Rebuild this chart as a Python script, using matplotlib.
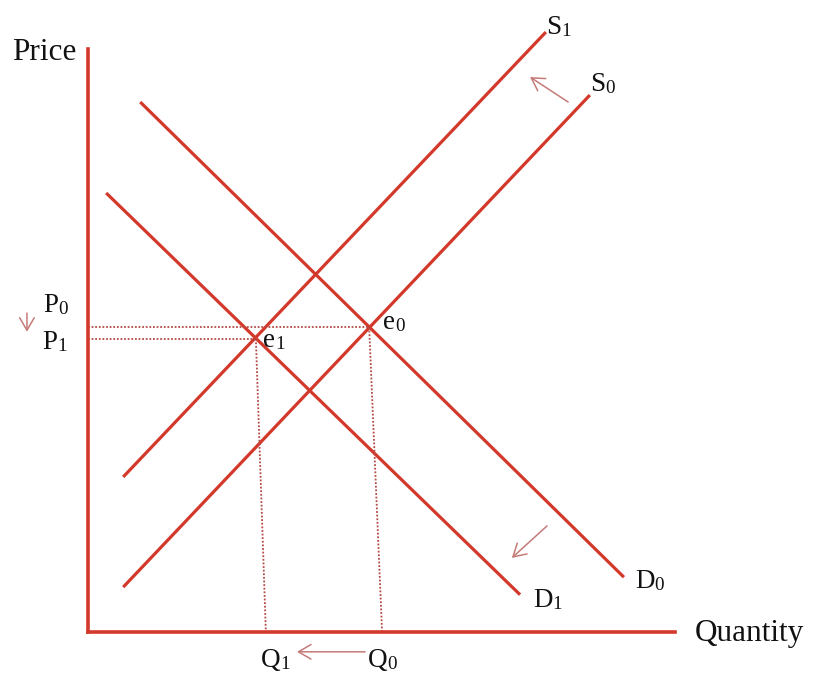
"""
Supply and demand shift diagram: supply shifts left (S0 -> S1), demand shifts left (D0 -> D1)
"""

import matplotlib
matplotlib.use("Agg")
import matplotlib.pyplot as plt

# chart data (quantity on x, price on y, arbitrary units 0-100)
supply_0_q = [6.0, 85.5]
supply_0_p = [7.7, 92.1]
supply_1_q = [6.0, 78.0]
supply_1_p = [26.6, 102.9]
demand_0_q = [8.9, 91.3]
demand_0_p = [90.9, 9.4]
demand_1_q = [3.1, 73.6]
demand_1_p = [75.3, 6.4]

# equilibria e0, e1 and where the dotted guides meet the axes
eq_q = [47.9, 28.6]
eq_p = [52.3, 50.3]
eq_q_axis = [50.1, 30.3]

# shift arrows: (from_q, from_p, to_q, to_p)
shift_arrows = [
    (81.8, 90.9, 75.3, 95.2),    # supply shifts
    (78.2, 18.2, 72.2, 12.7),    # demand shifts
    (47.2, -3.4, 35.6, -3.4),    # quantity falls
    (-10.4, 54.7, -10.4, 51.5),  # price falls
]

W, H = 814, 675
RED = '#d3392b'
DOT = '#b34a45'
ARROW = '#c47b78'
FONT = ['Liberation Serif', 'DejaVu Serif']

fig = plt.figure(figsize=(W / 100, H / 100), dpi=100)
ax = fig.add_axes([88 / W, (H - 632) / H, (675 - 88) / W, (632 - 49) / H])
ax.set_xlim(0, 100)
ax.set_ylim(0, 100)
for side in ['top', 'right']:
    ax.spines[side].set_visible(False)
for side in ['left', 'bottom']:
    ax.spines[side].set_color(RED)
    ax.spines[side].set_linewidth(2.6)
ax.set_xticks([])
ax.set_yticks([])

# curves
for q, p in [(supply_0_q, supply_0_p), (supply_1_q, supply_1_p),
             (demand_0_q, demand_0_p), (demand_1_q, demand_1_p)]:
    ax.plot(q, p, color=RED, linewidth=2.3, solid_capstyle='butt', clip_on=False)

# dotted guides to the axes
for q, p, qa in zip(eq_q, eq_p, eq_q_axis):
    ax.plot([0, q], [p, p], color=DOT, linestyle=(0, (1, 1)), linewidth=1.3)
    ax.plot([q, qa], [p, 0], color=DOT, linestyle=(0, (1, 1)), linewidth=1.3)

for q0, p0, q1, p1 in shift_arrows:
    ax.annotate('', xy=(q1, p1), xytext=(q0, p0), annotation_clip=False,
                arrowprops=dict(arrowstyle='->,head_length=0.6,head_width=0.35',
                                color=ARROW, lw=1.1, shrinkA=0, shrinkB=0,
                                mutation_scale=15))


def label(x, y, main, sub='', size=19.5):
    # x, y: left edge and baseline in image pixels
    t = fig.text(x / W, 1 - y / H, main, fontsize=size, family=FONT,
                 ha='left', va='baseline', color='#111111')
    if sub:
        ax.annotate(sub, xy=(1, 0), xycoords=t, fontsize=size * 0.7,
                    family=FONT, ha='left', va='bottom', color='#111111')
    return t


label(12, 60, 'Price', size=22.5)
label(695, 641, 'Quantity', size=22.5)
label(546, 34, 'S', '1')
label(590, 91, 'S', '0')
label(635, 588, 'D', '0')
label(533, 607, 'D', '1')
label(43, 312, 'P', '0')
label(42, 349, 'P', '1')
label(383, 329, 'e', '0')
label(263, 347, 'e', '1')
label(261, 667, 'Q', '1')
label(368, 667, 'Q', '0')

fig.savefig('out.png', dpi=100)
